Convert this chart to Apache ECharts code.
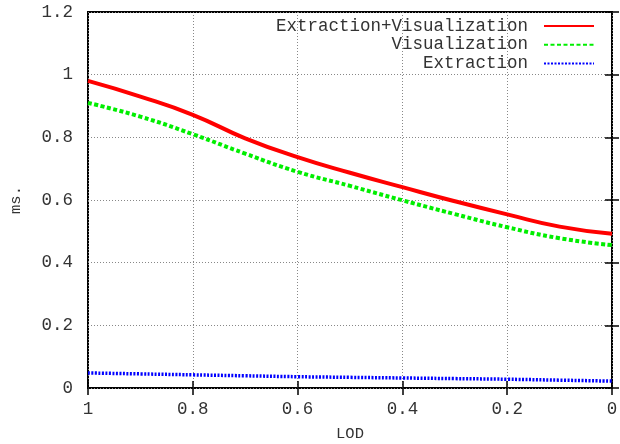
<!DOCTYPE html>
<html><head><meta charset="utf-8">
<script src="https://cdn.jsdelivr.net/npm/echarts@6/dist/echarts.min.js"></script>
<style>html,body{margin:0;padding:0;background:#fff}#c{width:620px;height:444px}</style>
</head><body><div id="c"></div>
<script>
const lod = [1, 0.9, 0.8, 0.7, 0.6, 0.5, 0.4, 0.3, 0.2, 0.1, 0];
const extVis = [0.980, 0.930, 0.872, 0.797, 0.737, 0.687, 0.641, 0.596, 0.554, 0.515, 0.492];
const vis = [0.910, 0.866, 0.810, 0.748, 0.690, 0.645, 0.599, 0.555, 0.513, 0.478, 0.456];
const ext = [0.048, 0.045, 0.042, 0.039, 0.036, 0.034, 0.032, 0.030, 0.028, 0.025, 0.022];
const xTicks = [0, 0.2, 0.4, 0.6, 0.8, 1];
const yTicks = [0, 0.2, 0.4, 0.6, 0.8, 1, 1.2];
const names = ['Extraction+Visualization', 'Visualization', 'Extraction'];

const FONT = 'Liberation Mono';
const FS = 17.5;
const pairs = arr => lod.map((x, i) => [x, arr[i]]);
const grid = {left: 88, right: 8, top: 12, bottom: 56, outerBoundsMode: 'none', containLabel: false,
  show: true, borderColor: '#000', borderWidth: 2, backgroundColor: 'transparent'};
const tick = {show: true, inside: true, length: 7, lineStyle: {color: '#000', width: 1.5}};
const split = {show: true, lineStyle: {type: [1, 2], color: '#888', width: 1}};
const lbl = {fontFamily: FONT, fontSize: FS, color: '#333'};

const chart = echarts.init(document.getElementById('c'), null, {renderer: 'canvas'});
chart.setOption({
  animation: false,
  backgroundColor: '#fff',
  grid: grid,
  legend: names.map((n, i) => ({
    data: [n], right: 20, top: 12 + i * 18.7, orient: 'vertical', align: 'right',
    itemWidth: 50, itemHeight: 4, itemGap: 0, itemStyle: {opacity: 0},
    textStyle: {fontFamily: FONT, fontSize: FS, color: '#333', padding: [0, 11, 0, 0]}
  })),
  xAxis: [{
    type: 'value', inverse: true, min: 0, max: 1, interval: 0.2,
    name: 'LOD', nameLocation: 'middle', nameGap: 38,
    nameTextStyle: {fontFamily: FONT, fontSize: FS - 2, color: '#333'},
    axisLine: {show: false}, axisTick: tick, splitLine: split,
    axisLabel: Object.assign({margin: 12, formatter: v => String(+v.toFixed(1))}, lbl)
  }, {
    type: 'value', inverse: true, min: 0, max: 1, interval: 0.2, position: 'top',
    axisLine: {show: false}, axisTick: tick, splitLine: {show: false}, axisLabel: {show: false}
  }],
  yAxis: [{
    type: 'value', min: 0, max: 1.2, interval: 0.2,
    name: 'ms.', nameLocation: 'middle', nameGap: 64, nameRotate: 90,
    nameTextStyle: {fontFamily: FONT, fontSize: FS - 2, color: '#333'},
    axisLine: {show: false}, axisTick: tick, splitLine: split,
    axisLabel: Object.assign({margin: 15, formatter: v => String(+v.toFixed(1))}, lbl)
  }, {
    type: 'value', min: 0, max: 1.2, interval: 0.2, position: 'right',
    axisLine: {show: false}, axisTick: tick, splitLine: {show: false}, axisLabel: {show: false}
  }],
  series: [
    {name: names[0], type: 'line', smooth: 0.5, symbol: 'none', data: pairs(extVis),
     lineStyle: {color: '#ff0000', width: 4}, itemStyle: {color: '#ff0000'}, z: 5},
    {name: names[1], type: 'line', smooth: 0.5, symbol: 'none', data: pairs(vis),
     lineStyle: {color: '#00ee00', width: 4, type: [4, 2.5], cap: 'butt'}, itemStyle: {color: '#00ee00'}, z: 4},
    {name: names[2], type: 'line', smooth: 0.5, symbol: 'none', data: pairs(ext),
     lineStyle: {color: '#0000ff', width: 3.5, type: [2, 1.5], cap: 'butt'}, itemStyle: {color: '#0000ff'}, z: 3}
  ]
});
</script></body></html>
